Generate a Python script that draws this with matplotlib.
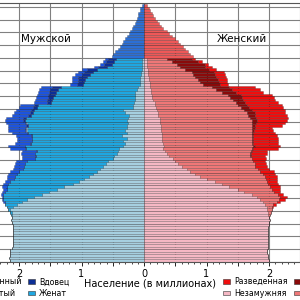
import matplotlib
matplotlib.use('Agg')
import matplotlib.pyplot as plt
from matplotlib.patches import Patch

# ages 0..79 with marital breakdown, values in millions
male_single = [2.15, 2.16, 2.15, 2.14, 2.15, 2.12, 2.10, 2.09, 2.09, 2.10,
               2.10, 2.09, 2.09, 2.10, 2.10, 2.12, 2.13, 2.12, 2.12, 2.12,
               2.14, 2.10, 2.04, 1.96, 1.88, 1.76, 1.64, 1.52, 1.40, 1.28,
               1.14, 1.04, 0.96, 0.88, 0.82, 0.76, 0.70, 0.66, 0.61, 0.57,
               0.50, 0.48, 0.44, 0.41, 0.40, 0.34, 0.31, 0.33, 0.28, 0.36,
               0.27, 0.30, 0.27, 0.27, 0.26, 0.27, 0.26, 0.24, 0.30, 0.33,
               0.17, 0.17, 0.16, 0.15, 0.14, 0.14, 0.14, 0.12, 0.10, 0.07,
               0.07, 0.06, 0.06, 0.05, 0.05, 0.04, 0.04, 0.03, 0.03, 0.03]
male_married = [0, 0, 0, 0, 0, 0, 0, 0, 0, 0,
                0, 0, 0, 0, 0, 0, 0, 0, 0.01, 0.02,
                0.04, 0.09, 0.18, 0.27, 0.37, 0.49, 0.61, 0.71, 0.80, 0.92,
                1.03, 1.10, 1.12, 1.19, 1.22, 1.24, 1.24, 1.26, 1.29, 1.30,
                1.24, 1.25, 1.30, 1.31, 1.49, 1.56, 1.50, 1.46, 1.51, 1.44,
                1.58, 1.58, 1.61, 1.59, 1.62, 1.63, 1.63, 1.57, 1.48, 1.43,
                1.55, 1.53, 1.33, 1.32, 1.31, 1.29, 1.27, 1.25, 1.23, 0.91,
                0.89, 0.88, 0.86, 0.81, 0.76, 0.71, 0.56, 0.48, 0.45, 0.42]
male_widowed = [0] * 40 + [
                0.01, 0.01, 0.01, 0.01, 0.01, 0.01, 0.01, 0.01, 0.01, 0.01,
                0.02, 0.02, 0.02, 0.03, 0.03, 0.03, 0.04, 0.04, 0.04, 0.05,
                0.05, 0.06, 0.07, 0.08, 0.09, 0.10, 0.11, 0.13, 0.14, 0.09,
                0.10, 0.12, 0.13, 0.14, 0.15, 0.17, 0.14, 0.13, 0.13, 0.12]
male_divorced = [0, 0, 0, 0, 0, 0, 0, 0, 0, 0,
                 0, 0, 0, 0, 0, 0, 0, 0, 0, 0,
                 0, 0.01, 0.01, 0.02, 0.02, 0.03, 0.04, 0.05, 0.06, 0.07,
                 0.08, 0.09, 0.11, 0.12, 0.13, 0.14, 0.15, 0.16, 0.17, 0.18,
                 0.20, 0.21, 0.22, 0.22, 0.25, 0.26, 0.24, 0.24, 0.23, 0.24,
                 0.25, 0.27, 0.28, 0.28, 0.29, 0.29, 0.28, 0.27, 0.26, 0.24,
                 0.23, 0.22, 0.20, 0.19, 0.18, 0.18, 0.18, 0.18, 0.17, 0.11,
                 0.10, 0.10, 0.10, 0.10, 0.09, 0.08, 0.06, 0.06, 0.05, 0.05]

female_single = [2.00, 1.99, 1.98, 1.96, 1.97, 1.98, 1.98, 1.99, 1.99, 1.99,
                 1.98, 1.98, 1.98, 1.99, 2.00, 2.00, 2.01, 2.00, 1.99, 1.98,
                 1.97, 1.96, 1.93, 1.90, 1.86, 1.80, 1.72, 1.60, 1.50, 1.36,
                 1.24, 1.14, 1.00, 0.90, 0.82, 0.74, 0.68, 0.60, 0.55, 0.50,
                 0.46, 0.40, 0.37, 0.33, 0.31, 0.32, 0.30, 0.29, 0.28, 0.29,
                 0.28, 0.27, 0.27, 0.27, 0.26, 0.26, 0.25, 0.23, 0.22, 0.21,
                 0.19, 0.18, 0.17, 0.15, 0.13, 0.12, 0.11, 0.11, 0.10, 0.09,
                 0.09, 0.08, 0.08, 0.07, 0.07, 0.06, 0.05, 0.05, 0.04, 0.04]
female_married = [0, 0, 0, 0, 0, 0, 0, 0, 0, 0,
                  0, 0, 0, 0, 0, 0, 0, 0, 0.02, 0.05,
                  0.07, 0.08, 0.14, 0.22, 0.30, 0.38, 0.42, 0.48, 0.55, 0.66,
                  0.74, 0.83, 0.95, 1.03, 1.08, 1.12, 1.14, 1.18, 1.22, 1.24,
                  1.26, 1.30, 1.33, 1.38, 1.41, 1.43, 1.43, 1.43, 1.44, 1.43,
                  1.44, 1.45, 1.45, 1.45, 1.46, 1.46, 1.45, 1.44, 1.43, 1.39,
                  1.36, 1.32, 1.30, 1.27, 1.25, 1.23, 1.14, 1.04, 0.98, 0.86,
                  0.81, 0.79, 0.74, 0.71, 0.69, 0.60, 0.53, 0.47, 0.40, 0.32]
female_widowed = [0] * 39 + [
                  0.01, 0.01, 0.01, 0.01, 0.01, 0.02, 0.02, 0.02, 0.02, 0.03,
                  0.03, 0.03, 0.04, 0.05, 0.06, 0.07, 0.08, 0.09, 0.11, 0.12,
                  0.13, 0.13, 0.14, 0.15, 0.17, 0.18, 0.20, 0.22, 0.25, 0.28,
                  0.27, 0.30, 0.31, 0.33, 0.35, 0.36, 0.38, 0.40, 0.46, 0.43,
                  0.40]
female_divorced = [0, 0, 0, 0, 0, 0, 0, 0, 0, 0,
                   0, 0, 0, 0, 0, 0, 0, 0, 0, 0,
                   0.01, 0.02, 0.04, 0.06, 0.09, 0.10, 0.09, 0.10, 0.13, 0.15,
                   0.16, 0.15, 0.17, 0.19, 0.20, 0.22, 0.18, 0.18, 0.18, 0.19,
                   0.22, 0.23, 0.25, 0.24, 0.41, 0.40, 0.40, 0.40, 0.39, 0.37,
                   0.35, 0.30, 0.28, 0.42, 0.46, 0.48, 0.51, 0.50, 0.49, 0.52,
                   0.54, 0.56, 0.53, 0.51, 0.52, 0.50, 0.43, 0.45, 0.42, 0.12,
                   0.12, 0.14, 0.16, 0.17, 0.16, 0.11, 0.10, 0.05, 0.05, 0.06]

# ages 80..100, totals only
male_old = [0.52, 0.49, 0.46, 0.42, 0.39, 0.36, 0.33, 0.30, 0.27, 0.24,
            0.22, 0.20, 0.17, 0.15, 0.13, 0.12, 0.10, 0.09, 0.07, 0.06, 0.03]
female_old = [0.78, 0.74, 0.70, 0.66, 0.62, 0.58, 0.54, 0.50, 0.45, 0.40,
              0.36, 0.31, 0.27, 0.24, 0.20, 0.18, 0.15, 0.12, 0.10, 0.08, 0.05]

male_labels = ['Разведенный', 'Неженатый', 'Вдовец', 'Женат']
female_labels = ['Разведенная', 'Незамужняя', 'Вдова', 'Замужняя']

male_colors = {'single': '#a6cfe0', 'married': '#1ea7e1', 'widowed': '#0d2f96',
               'divorced': '#1c54de', 'old': '#2b6fd6'}
female_colors = {'single': '#f5b8c4', 'married': '#ef7777', 'widowed': '#8a0a0a',
                 'divorced': '#f00d0d', 'old': '#ee5858'}

ages = list(range(80))
old_ages = list(range(80, 101))
bar_kw = dict(height=1, align='edge', edgecolor=(0, 0, 0, 0.35), linewidth=0.4)

fig = plt.figure(figsize=(3, 3), dpi=100)
ax = fig.add_axes([-0.2075, 0.1267, 1.375, 0.8633])


def stack(sign, parts, colors):
    left = [0.0] * len(ages)
    for key, values in parts:
        widths = [sign * v for v in values]
        ax.barh(ages, widths, left=left, color=colors[key], **bar_kw)
        left = [l + w for l, w in zip(left, widths)]


stack(-1, [('single', male_single), ('married', male_married),
           ('widowed', male_widowed), ('divorced', male_divorced)], male_colors)
stack(1, [('single', female_single), ('married', female_married),
          ('widowed', female_widowed), ('divorced', female_divorced)], female_colors)
ax.barh(old_ages, [-v for v in male_old], color=male_colors['old'], **bar_kw)
ax.barh(old_ages, female_old, color=female_colors['old'], **bar_kw)

ax.set_xlim(-3.3, 3.3)
ax.set_ylim(0, 101.5)
ax.set_xticks([x / 2 for x in range(-6, 7)])
ax.set_xticklabels(['' if x % 2 else f'{abs(x) // 2}' for x in range(-6, 7)])
ax.set_xticks([x / 10 for x in range(-33, 34)], minor=True)
ax.set_yticks(range(0, 101, 5))
ax.set_yticklabels([])
ax.tick_params(axis='x', which='major', labelsize=7, length=3, width=0.6, pad=2)
ax.tick_params(axis='x', which='minor', length=1.5, width=0.5)
ax.tick_params(axis='y', length=0)

ax.set_axisbelow(True)
ax.grid(True, which='major', color='#808080', linewidth=0.8)
for spine in ax.spines.values():
    spine.set_color('#555555')
    spine.set_linewidth(0.8)

ax.text(-1.57, 87.5, 'Мужской', ha='center', va='center', fontsize=7.5)
ax.text(1.57, 87.5, 'Женский', ha='center', va='center', fontsize=7.5)

fig.text(149.5 / 300, 17 / 300, 'Население (в миллионах)',
         ha='center', va='center', fontsize=7)

legend_kw = dict(ncol=2, fontsize=5.7, frameon=False, borderpad=0,
                 handlelength=0.9, handleheight=0.55, handletextpad=0.5,
                 columnspacing=0.8, labelspacing=0.3)
male_handles = [Patch(facecolor=male_colors[k], edgecolor='#333333', linewidth=0.4)
                for k in ['divorced', 'single', 'widowed', 'married']]
female_handles = [Patch(facecolor=female_colors[k], edgecolor='#333333', linewidth=0.4)
                  for k in ['divorced', 'single', 'widowed', 'married']]
fig.legend(male_handles, male_labels, loc='center right',
           bbox_to_anchor=(73 / 300, 12.5 / 300), **legend_kw)
fig.legend(female_handles, female_labels, loc='center left',
           bbox_to_anchor=(219 / 300, 12.5 / 300), **legend_kw)

fig.savefig('out.png', dpi=100)
